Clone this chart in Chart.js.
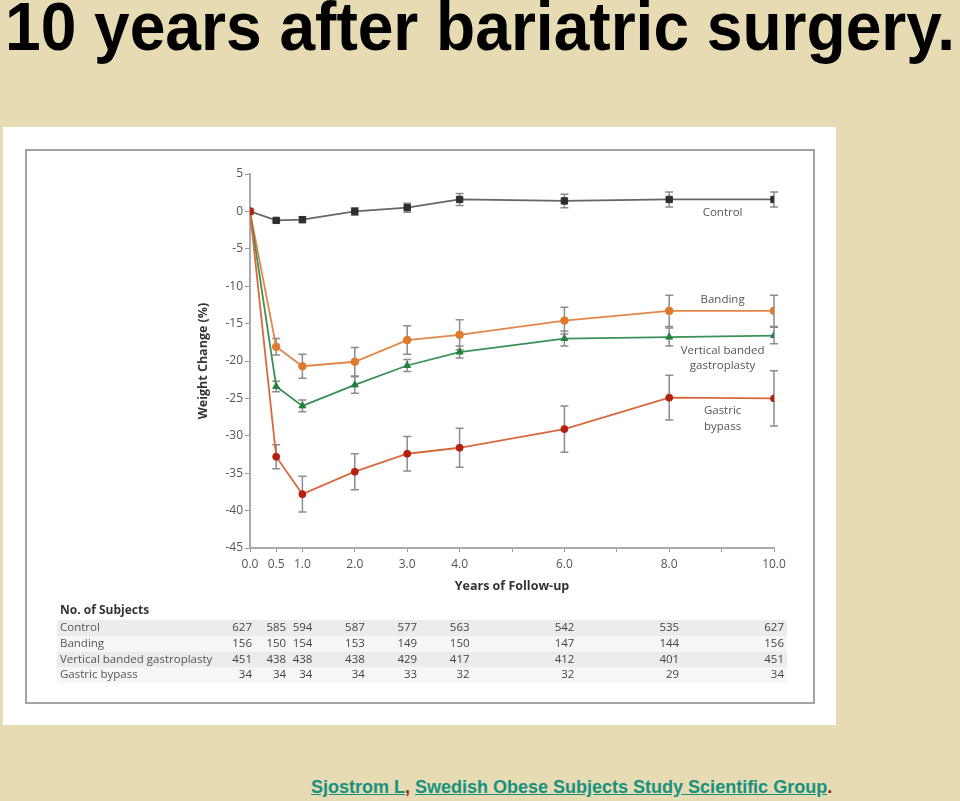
<!DOCTYPE html>
<html>
<head>
<meta charset="utf-8">
<script src="https://cdn.jsdelivr.net/npm/chart.js@4.4.1/dist/chart.umd.min.js"></script>
<style>
  html, body { margin: 0; padding: 0; }
  body { width: 960px; height: 801px; background: #e6dbb3; position: relative; overflow: hidden; }
  #title { position: absolute; left: 5px; top: -8px; font: bold 68px 'Liberation Sans Narrow', 'Liberation Sans', Arial, sans-serif; line-height: 68px; color: #000; white-space: nowrap; transform-origin: 0 0; }
  #panel { position: absolute; left: 3px; top: 127px; width: 833px; height: 598px; background: #fff; }
  #frame { position: absolute; left: 22px; top: 22px; width: 786px; height: 551px; border: 2px solid #a3a3a3; }
  #chart { position: absolute; left: 0; top: 0; }
  #cite { position: absolute; left: 311px; top: 777px; font: bold 18px 'Liberation Sans', Arial, sans-serif; line-height: 20px; color: #a0200f; white-space: nowrap; }
  #cite a { color: #16917f; text-decoration: underline; }
</style>
</head>
<body>
<div id="title">10 years after bariatric surgery.</div>
<div id="panel">
  <div id="frame"></div>
  <canvas id="chart" width="833" height="598"></canvas>
</div>
<div id="cite"><a>Sjostrom L</a>, <a>Swedish Obese Subjects Study Scientific Group</a>.</div>

<script>
(() => {
  'use strict'

  // years of follow-up
  const years = [0, 0.5, 1, 2, 3, 4, 6, 8, 10]
  const xTickLabels = [0, 0.5, 1, 2, 3, 4, 6, 8, 10]
  const xMinorTicks = [5, 7, 9]

  // weight change (%) and error bar half-widths
  const control = [0, -1.2, -1.1, 0, 0.5, 1.6, 1.4, 1.6, 1.6]
  const controlErr = [0, 0.3, 0.4, 0.5, 0.6, 0.8, 0.9, 1.0, 1.0]
  const banding = [0, -18.1, -20.7, -20.1, -17.2, -16.5, -14.6, -13.3, -13.3]
  const bandingErr = [0, 1.1, 1.6, 1.9, 1.9, 2.0, 1.8, 2.1, 2.1]
  const vbg = [0, -23.4, -26.0, -23.2, -20.6, -18.8, -17.0, -16.8, -16.6]
  const vbgErr = [0, 0.7, 0.8, 1.1, 0.8, 0.8, 1.0, 1.2, 1.1]
  const bypass = [0, -32.8, -37.8, -34.8, -32.4, -31.6, -29.1, -24.9, -25.0]
  const bypassErr = [0, 1.6, 2.4, 2.4, 2.3, 2.6, 3.1, 3.0, 3.7]

  // No. of subjects
  const groupNames = ['Control', 'Banding', 'Vertical banded gastroplasty', 'Gastric bypass']
  const subjControl = [627, 585, 594, 587, 577, 563, 542, 535, 627]
  const subjBanding = [156, 150, 154, 153, 149, 150, 147, 144, 156]
  const subjVbg = [451, 438, 438, 438, 429, 417, 412, 401, 451]
  const subjBypass = [34, 34, 34, 34, 33, 32, 32, 29, 34]

  const font = "'Open Sans', 'Noto Sans', sans-serif"

  // fit the title to the slide width
  const title = document.getElementById('title')
  title.style.transform = 'scaleX(' + (950 / title.offsetWidth) + ')'

  const pts = (vals) => years.map((x, i) => ({ x, y: vals[i] }))

  const series = [
    { label: 'Control', vals: control, err: controlErr, line: '#666', point: '#2e2e2e', style: 'rect', r: 4.5, order: 4 },
    { label: 'Banding', vals: banding, err: bandingErr, line: '#e2874a', point: '#de7a2e', style: 'circle', r: 3.8, order: 3 },
    { label: 'Vertical banded gastroplasty', vals: vbg, err: vbgErr, line: '#3d9158', point: '#24803f', style: 'triangle', r: 4, order: 2 },
    { label: 'Gastric bypass', vals: bypass, err: bypassErr, line: '#d8693f', point: '#b3220f', style: 'circle', r: 3.5, order: 1 }
  ]

  const errorBars = {
    id: 'errorBars',
    beforeDatasetsDraw (chart) {
      const { ctx, scales: { x, y } } = chart
      ctx.save()
      ctx.strokeStyle = '#8c8c8c'
      ctx.lineWidth = 1.5
      series.forEach(s => {
        years.forEach((yr, i) => {
          if (!s.err[i]) return
          const px = x.getPixelForValue(yr)
          const top = y.getPixelForValue(s.vals[i] + s.err[i])
          const bot = y.getPixelForValue(s.vals[i] - s.err[i])
          ctx.beginPath()
          ctx.moveTo(px, top); ctx.lineTo(px, bot)
          ctx.moveTo(px - 4, top); ctx.lineTo(px + 4, top)
          ctx.moveTo(px - 4, bot); ctx.lineTo(px + 4, bot)
          ctx.stroke()
        })
      })
      ctx.restore()
    }
  }

  const seriesLabels = {
    id: 'seriesLabels',
    afterDatasetsDraw (chart) {
      const { ctx, scales: { x, y } } = chart
      const lx = x.getPixelForValue(9) + 1
      const lines = [
        [control[8], 13, 'Control'],
        [banding[8], -11, 'Banding'],
        [vbg[8], 15, 'Vertical banded'],
        [vbg[8], 30, 'gastroplasty'],
        [bypass[8], 12, 'Gastric'],
        [bypass[8], 28, 'bypass']
      ]
      ctx.save()
      ctx.font = '11.5px ' + font
      ctx.fillStyle = '#555'
      ctx.textAlign = 'center'
      ctx.textBaseline = 'middle'
      lines.forEach(([v, dy, t]) => ctx.fillText(t, lx, y.getPixelForValue(v) + dy))
      ctx.restore()
    }
  }

  const subjectsTable = {
    id: 'subjectsTable',
    afterDraw (chart) {
      const { ctx, scales: { x } } = chart
      const rows = [subjControl, subjBanding, subjVbg, subjBypass]
      const rowY = [501, 517, 533, 548]
      ctx.save()
      rowY.forEach((ry, r) => {
        ctx.fillStyle = r % 2 === 0 ? '#ececec' : '#f6f6f6'
        ctx.fillRect(54, ry - 8, 730, 16)
      })
      ctx.textBaseline = 'middle'
      ctx.fillStyle = '#333'
      ctx.font = 'bold 12px ' + font
      ctx.textAlign = 'left'
      ctx.fillText('No. of Subjects', 57, 484)
      ctx.font = '11.5px ' + font
      rows.forEach((vals, r) => {
        ctx.fillStyle = '#555'
        ctx.textAlign = 'left'
        ctx.fillText(groupNames[r], 57, rowY[r])
        ctx.fillStyle = '#444'
        ctx.textAlign = 'right'
        vals.forEach((n, i) => {
          const px = x.getPixelForValue(years[i]) + (i === 0 ? 2 : 10)
          ctx.fillText(String(n), px, rowY[r])
        })
      })
      ctx.restore()
    }
  }

  const ctx = document.getElementById('chart')
  // eslint-disable-next-line no-unused-vars
  const chart = new Chart(ctx, {
    type: 'line',
    data: {
      datasets: series.map(s => ({
        label: s.label,
        data: pts(s.vals),
        borderColor: s.line,
        borderWidth: 1.8,
        pointStyle: s.style,
        pointRadius: s.r,
        pointBackgroundColor: s.point,
        pointBorderColor: s.point,
        pointBorderWidth: 1,
        lineTension: 0,
        order: s.order
      }))
    },
    options: {
      responsive: false,
      animation: false,
      layout: { padding: { left: 193, right: 62, top: 47, bottom: 127 } },
      plugins: {
        legend: { display: false },
        tooltip: { enabled: false }
      },
      scales: {
        x: {
          type: 'linear',
          min: 0,
          max: 10,
          afterBuildTicks: (s) => {
            s.ticks = xTickLabels.concat(xMinorTicks).sort((a, b) => a - b).map(v => ({ value: v }))
          },
          afterFit: (s) => { s.height = 50 },
          ticks: {
            autoSkip: false,
            maxRotation: 0,
            padding: 5,
            color: '#555',
            font: { size: 12, family: font },
            callback: (v) => xTickLabels.includes(v) ? v.toFixed(1) : ''
          },
          grid: { drawOnChartArea: false, tickLength: 4, color: '#999' },
          border: { color: '#aaa', width: 2 },
          title: {
            display: true,
            text: 'Years of Follow-up',
            color: '#333',
            font: { size: 12.5, weight: 'bold', family: font },
            padding: { top: 0, bottom: 4 }
          }
        },
        y: {
          min: -45,
          max: 5,
          afterFit: (s) => { s.width = 54 },
          ticks: {
            stepSize: 5,
            padding: 2,
            color: '#555',
            font: { size: 12, family: font }
          },
          grid: { drawOnChartArea: false, tickLength: 5, color: '#999' },
          border: { color: '#aaa', width: 2 },
          title: {
            display: true,
            text: 'Weight Change (%)',
            color: '#333',
            font: { size: 12.5, weight: 'bold', family: font },
            padding: 0
          }
        }
      }
    },
    plugins: [errorBars, seriesLabels, subjectsTable]
  })
})()
</script>
</body>
</html>
